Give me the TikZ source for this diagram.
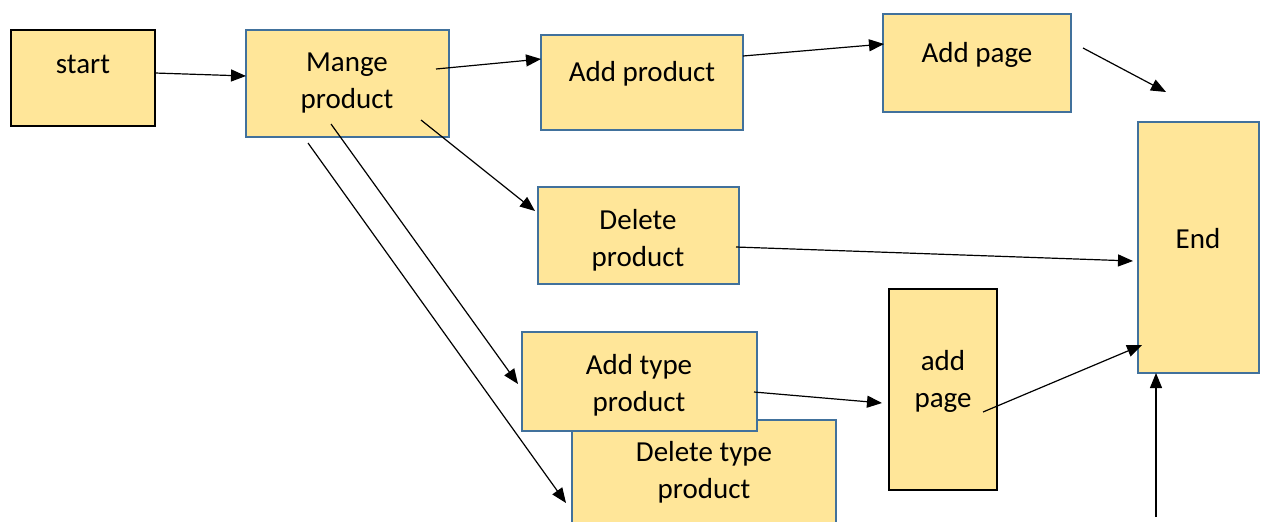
\documentclass[tikz,border=0pt]{standalone}
\usepackage{fontspec}
\setmainfont{Carlito}
\usetikzlibrary{arrows.meta}
\definecolor{boxfill}{HTML}{FFE699}
\definecolor{boxblue}{HTML}{41719C}
\tikzset{
  box/.style={draw=boxblue, line width=1pt, fill=boxfill, inner sep=0pt},
  blackbox/.style={draw=black, line width=1.4pt, fill=boxfill, inner sep=0pt},
  lbl/.style={font=\fontsize{14.5pt}{18.5pt}\selectfont, align=center, inner sep=0pt},
  conn/.style={line width=0.6pt, -{Triangle[length=7.5pt,width=6pt]}},
}
\begin{document}
\begin{tikzpicture}[x=0.5pt,y=-0.5pt]
\useasboundingbox (0,0) rectangle (1262,521);
% boxes
\node[blackbox, minimum width=72pt, minimum height=48pt] (start) at (83,78) {};
\node[box, minimum width=101.5pt, minimum height=53.5pt] (mange) at (347.5,83.5) {};
\node[box, minimum width=101pt, minimum height=47.5pt] (addprod) at (642,82.5) {};
\node[box, minimum width=94pt, minimum height=49pt] (addpage) at (977,63) {};
\node[box, minimum width=60.5pt, minimum height=125.5pt] (end) at (1198.5,247.5) {};
\node[box, minimum width=100.5pt, minimum height=48.5pt] (delprod) at (638.5,235.5) {};
\node[box, minimum width=132pt, minimum height=55pt] (deltype) at (704,475) {};
\node[box, minimum width=117.5pt, minimum height=49.5pt] (addtype) at (639.5,381.5) {};
\node[blackbox, minimum width=54pt, minimum height=100.5pt] (addpage2) at (943,389.5) {};
% texts
\node[lbl] (startT) at (83,64) {start};
\node[lbl] (mangeT) at (347,83) {Mange\\product};
\node[lbl] (addprodT) at (642,74) {Add product};
\node[lbl] (addpageT) at (977,55) {Add page};
\node[lbl] (endT) at (1198,239) {End};
\node[lbl] (delprodT) at (638,240) {Delete\\product};
\node[lbl] (addtypeT) at (639,385) {Add type\\product};
\node[lbl] (deltypeT) at (704,472.5) {Delete type\\product};
\node[lbl] (addpage2T) at (943,381.5) {add\\page};
% connector end points
\coordinate (a1) at (155,73);   \coordinate (b1) at (246,76);
\coordinate (a2) at (436,69);   \coordinate (b2) at (541,59);
\coordinate (a3) at (743,56);   \coordinate (b3) at (884,44);
\coordinate (a4) at (1083,48);  \coordinate (b4) at (1166,92);
\coordinate (a5) at (421,120);  \coordinate (b5) at (535,211);
\coordinate (a6) at (736,247);  \coordinate (b6) at (1133,261);
\coordinate (a7) at (331,124);  \coordinate (b7) at (518,384);
\coordinate (a8) at (308,143);  \coordinate (b8) at (566,503);
\coordinate (a9) at (754,392);  \coordinate (b9) at (882,403);
\coordinate (a10) at (983,412); \coordinate (b10) at (1142,345);
\coordinate (a11) at (1156,517); \coordinate (b11) at (1156,373);
% connectors
\draw[conn] (a1) -- (b1);
\draw[conn] (a2) -- (b2);
\draw[conn] (a3) -- (b3);
\draw[conn] (a4) -- (b4);
\draw[conn] (a5) -- (b5);
\draw[conn] (a6) -- (b6);
\draw[conn] (a7) -- (b7);
\draw[conn] (a8) -- (b8);
\draw[conn] (a9) -- (b9);
\draw[conn] (a10) -- (b10);
\draw[conn] (a11) -- (b11);
\end{tikzpicture}
\end{document}
